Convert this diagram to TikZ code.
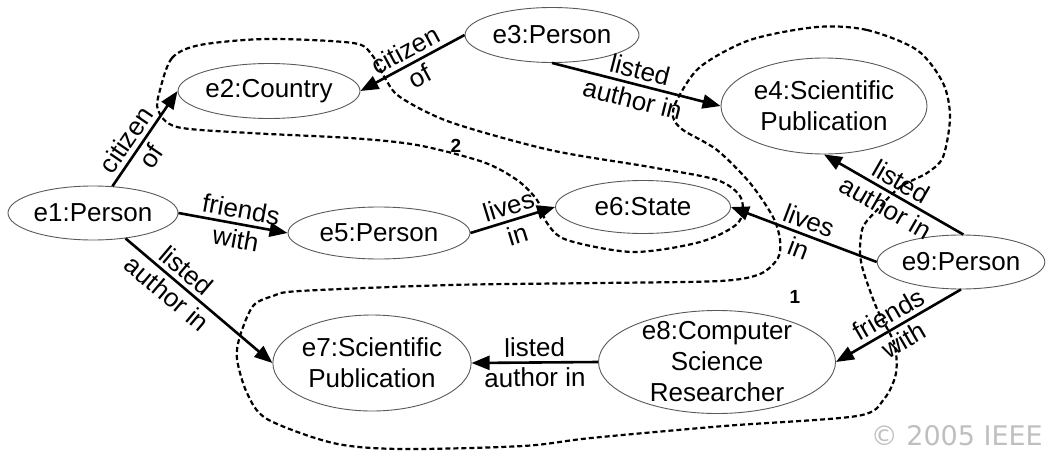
\documentclass[tikz,border=0pt]{standalone}
\usepackage{fontspec}
\setmainfont{Liberation Sans}
\newfontfamily\copyfont{DejaVu Sans}
\usetikzlibrary{arrows.meta,shapes.geometric}

\begin{document}
\begin{tikzpicture}[
  x=1pt, y=-1pt,
  ent/.style={draw=black!65, line width=0.9pt, ellipse, inner sep=0pt,
              align=center, font=\fontsize{26}{31}\selectfont},
  rel/.style={-{Triangle[length=18pt,width=14pt]}, line width=2.6pt},
  lbl/.style={sloped, align=center, inner sep=0pt, font=\fontsize{26}{30}\selectfont},
  grp/.style={line width=2.2pt, dash pattern=on 5pt off 3pt},
  num/.style={font=\fontsize{19}{19}\selectfont\bfseries, inner sep=0pt}
]
\useasboundingbox (0,0) rectangle (1048,452);

\node[ent, minimum width=170pt, minimum height=54pt] (e1) at (93,213) {e1:Person};
\node[ent, minimum width=182pt, minimum height=55pt] (e2) at (269,91) {e2:Country};
\node[ent, minimum width=174pt, minimum height=55pt] (e3) at (552,35) {e3:Person};
\node[ent, minimum width=206pt, minimum height=96pt] (e4) at (824,106) {e4:Scientific\\Publication};
\node[ent, minimum width=182pt, minimum height=52pt] (e5) at (379,233) {e5:Person};
\node[ent, minimum width=175pt, minimum height=53pt] (e6) at (643,207) {e6:State};
\node[ent, minimum width=197pt, minimum height=96pt] (e7) at (372,363) {e7:Scientific\\Publication};
\node[ent, minimum width=237pt, minimum height=103pt, inner ysep=-7pt] (e8) at (717,362) {e8:Computer\\Science\\Researcher};
\node[ent, minimum width=166pt, minimum height=54pt] (e9) at (961,262) {e9:Person};

\draw[rel] (e1.54) -- node[lbl, pos=0.4] {citizen\\of} (e2.west);
\draw[rel] (e3.west) -- node[lbl, pos=0.5] {citizen\\of} (e2.east);
\draw[rel] (e3.south) -- node[lbl, pos=0.5] {listed\\author in} (e4.west);
\draw[rel] (e1.east) -- node[lbl, pos=0.55] {friends\\with} (e5.west);
\draw[rel] (e5.east) -- node[lbl, pos=0.5] {lives\\in} (e6.west);
\draw[rel] (e9.west) -- node[lbl, pos=0.5] {lives\\in} (e6.east);
\draw[rel] (e9.85) -- node[lbl, pos=0.5] {listed\\author in} (e4.south);
\draw[rel] (e1.-38) -- node[lbl, pos=0.35] {listed\\author in} (e7.west);
\draw[rel] (e8.west) -- node[lbl, pos=0.5] {listed\\author in} (e7.east);
\draw[rel] (e9.south) -- node[lbl, pos=0.52] {friends\\with} (e8.east);

\draw[grp] plot[smooth cycle, tension=0.5] coordinates {
  (817,27) (867,30) (917,50) (943,83) (950,117) (943,157) (927,173) (900,187)
  (877,210) (863,227) (860,250) (863,270) (877,309) (894,343) (896,373) (884,399)
  (857,416) (724,426) (591,438) (523,446) (400,449) (333,443) (267,419) (247,393)
  (237,359) (240,336) (253,306) (273,296) (300,291) (450,285) (600,283) (720,281)
  (760,274) (778,258) (780,240) (773,217) (750,183) (717,150) (683,130) (673,117)
  (677,100) (700,67) (750,40)};
\draw[grp] plot[smooth cycle, tension=0.5] coordinates {
  (160,90) (172,58) (200,45) (267,39) (353,43) (372,55) (385,78) (400,97)
  (450,122) (550,150) (650,167) (717,180) (741,198) (738,223) (700,242) (633,252)
  (567,240) (547,223) (537,200) (517,180) (483,162) (417,145) (350,138) (250,133)
  (177,127) (158,110)};

\node[num] (g1) at (795,297) {1};
\node[num] (g2) at (456,146) {2};

\node[anchor=base east, inner sep=0pt, text=black!25, font=\copyfont\fontsize{27}{27}\selectfont] (ieee) at (1043,445) {© 2005 IEEE};
\end{tikzpicture}
\end{document}
